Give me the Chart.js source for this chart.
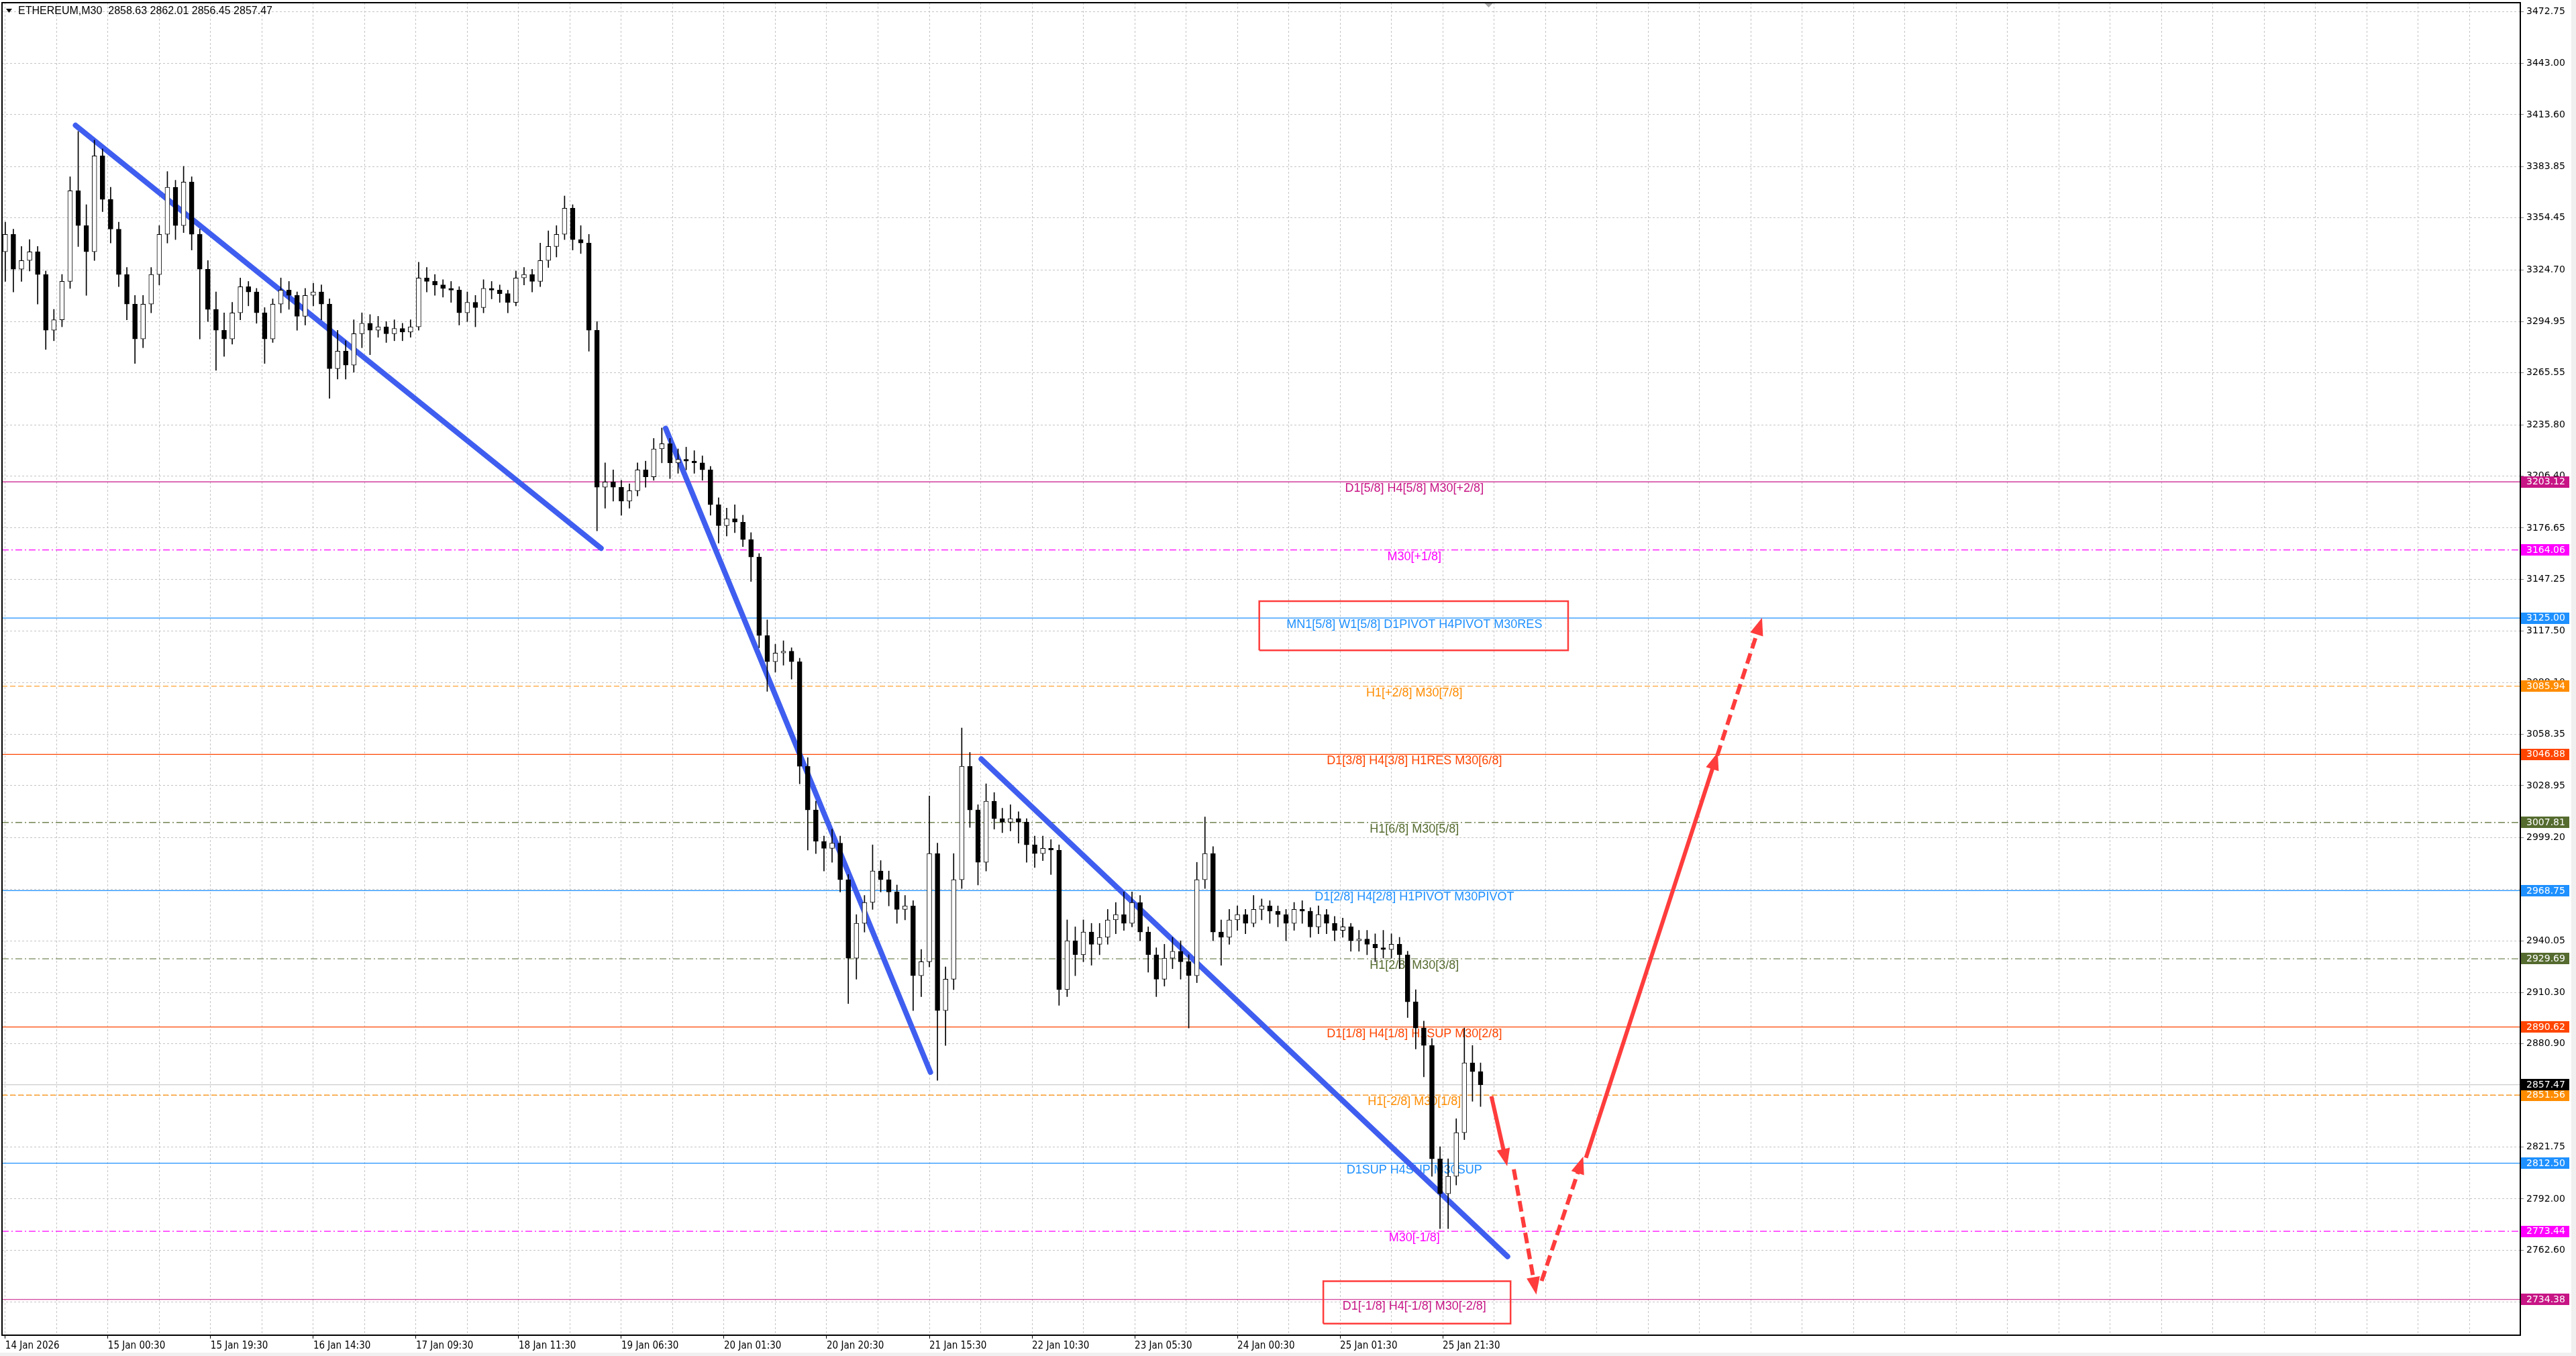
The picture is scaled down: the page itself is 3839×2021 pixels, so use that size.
<!DOCTYPE html>
<html>
<head>
<meta charset="utf-8">
<title>ETHEREUM,M30</title>
<script src="https://cdn.jsdelivr.net/npm/chart.js@4.4.1/dist/chart.umd.min.js"></script>
<style>
  html, body { margin: 0; padding: 0; background: #ffffff; overflow: hidden; }
  canvas { display: block; }
</style>
</head>
<body>
<canvas id="priceChart" width="3839" height="2021"></canvas>
<script>
// ---- values ----
const SYMBOL = "ETHEREUM,M30";
const lastBar = [2858.63, 2862.01, 2856.45, 2857.47]; // O H L C of the live bar

// one candle = 3 x M30 bars, first candle sits on bar 0
const BARS_PER_CANDLE = 3;

const opens = [
  3335,3345,3325,3330,3335,3322,3290,3296,3318,3370,
  3350,3335,3390,3365,3348,3322,3305,3285,3305,3322,
  3345,3372,3350,3375,3345,3325,3302,3290,3285,3300,
  3315,3312,3300,3285,3305,3313,3310,3298,3310,3312,
  3305,3268,3278,3270,3288,3294,3290,3292,3288,3291,
  3289,3292,3320,3318,3316,3314,3313,3300,3306,3303,
  3314,3313,3311,3306,3320,3322,3318,3330,3338,3345,
  3360,3342,3340,3290,3200,3203,3200,3192,3198,3210,
  3206,3222,3225,3214,3216,3215,3214,3210,3190,3178,
  3182,3180,3170,3160,3115,3100,3105,3106,3100,3040,
  3015,2997,2993,2996,2975,2930,2950,2962,2980,2975,
  2968,2958,2960,2920,2928,2990,2900,2918,2975,3040,
  3015,2985,3020,3010,3008,3010,3008,2995,2990,2993,
  2992,2912,2940,2932,2945,2938,2942,2952,2955,2950,
  2962,2945,2932,2918,2930,2934,2928,2920,2975,2990,
  2945,2942,2952,2955,2950,2958,2960,2957,2955,2950,
  2958,2957,2948,2955,2950,2946,2948,2940,2941,2938,
  2936,2935,2938,2932,2905,2890,2880,2815,2795,2805,
  2830,2870,2865
];
const highs = [
  3352,3348,3338,3342,3338,3324,3302,3322,3378,3404,
  3362,3399,3394,3372,3352,3326,3310,3310,3326,3350,
  3381,3376,3384,3378,3348,3330,3312,3300,3306,3320,
  3318,3314,3303,3308,3320,3318,3312,3314,3317,3316,
  3308,3290,3284,3296,3300,3299,3298,3295,3296,3294,
  3296,3329,3326,3322,3319,3318,3315,3312,3310,3319,
  3318,3316,3313,3324,3326,3325,3340,3347,3350,3367,
  3362,3350,3345,3295,3214,3210,3204,3202,3214,3215,
  3228,3234,3228,3222,3223,3221,3218,3212,3194,3188,
  3190,3184,3174,3162,3124,3110,3112,3108,3102,3045,
  3020,3000,3004,3000,2978,2955,2966,2995,2986,2980,
  2972,2966,2963,2935,3023,2996,2925,2990,3062,3048,
  3018,3030,3025,3016,3018,3014,3010,3000,3000,2998,
  2995,2952,2948,2952,2950,2950,2958,2962,2968,2968,
  2966,2948,2936,2938,2942,2940,2932,2985,3011,2994,
  2952,2958,2960,2958,2966,2964,2963,2960,2958,2962,
  2963,2959,2960,2958,2954,2953,2950,2946,2946,2944,
  2946,2944,2942,2934,2912,2894,2884,2822,2815,2838,
  2890,2880,2870
];
const lows = [
  3318,3312,3318,3324,3305,3279,3284,3292,3314,3338,
  3310,3330,3358,3340,3315,3296,3271,3280,3300,3316,
  3340,3342,3346,3336,3285,3295,3267,3275,3282,3296,
  3304,3294,3271,3283,3300,3302,3290,3293,3304,3296,
  3251,3262,3262,3266,3280,3276,3286,3283,3284,3284,
  3286,3290,3312,3310,3309,3306,3293,3295,3292,3300,
  3308,3306,3300,3304,3316,3312,3315,3326,3332,3342,
  3336,3334,3278,3175,3188,3192,3184,3188,3195,3200,
  3204,3214,3205,3208,3210,3208,3204,3184,3168,3172,
  3174,3166,3146,3108,3083,3094,3098,3090,3030,2992,
  2990,2980,2985,2968,2904,2918,2945,2958,2968,2960,
  2950,2952,2900,2908,2925,2860,2880,2912,2970,3005,
  2972,2980,3004,3002,3003,2996,2985,2982,2986,2978,
  2903,2908,2920,2928,2926,2932,2938,2944,2946,2948,
  2940,2922,2908,2914,2924,2918,2890,2916,2970,2940,
  2926,2938,2946,2944,2948,2952,2950,2948,2940,2946,
  2950,2942,2944,2944,2940,2942,2934,2934,2932,2928,
  2930,2930,2924,2896,2878,2862,2805,2775,2775,2800,
  2826,2848,2845
];
const closes = [
  3345,3325,3330,3335,3322,3290,3296,3318,3370,3350,
  3335,3390,3365,3348,3322,3305,3285,3305,3322,3345,
  3372,3350,3375,3345,3325,3302,3290,3285,3300,3315,
  3312,3300,3285,3305,3313,3310,3298,3310,3312,3305,
  3268,3278,3270,3288,3294,3290,3292,3288,3291,3289,
  3292,3320,3318,3316,3314,3313,3300,3306,3303,3314,
  3313,3311,3306,3320,3322,3318,3330,3338,3345,3360,
  3342,3340,3290,3200,3203,3200,3192,3198,3210,3206,
  3222,3225,3214,3216,3215,3214,3210,3190,3178,3182,
  3180,3170,3160,3115,3100,3105,3106,3100,3040,3015,
  2997,2993,2996,2975,2930,2950,2962,2980,2975,2968,
  2958,2960,2920,2928,2990,2900,2918,2975,3040,3015,
  2985,3020,3010,3008,3010,3008,2995,2990,2993,2992,
  2912,2940,2932,2945,2938,2942,2952,2955,2950,2962,
  2945,2932,2918,2930,2934,2928,2920,2975,2990,2945,
  2942,2952,2955,2950,2958,2960,2957,2955,2950,2958,
  2957,2948,2955,2950,2946,2948,2940,2941,2938,2936,
  2935,2938,2932,2905,2890,2880,2815,2795,2805,2830,
  2870,2865,2857.47
];

// time axis: a label every 38 bars
const LABEL_EVERY = 38;
const timeLabels = [
  "14 Jan 2026", "15 Jan 00:30", "15 Jan 19:30", "16 Jan 14:30", "17 Jan 09:30",
  "18 Jan 11:30", "19 Jan 06:30", "20 Jan 01:30", "20 Jan 20:30", "21 Jan 15:30",
  "22 Jan 10:30", "23 Jan 05:30", "24 Jan 00:30", "25 Jan 01:30", "25 Jan 21:30"
];

const priceTicks = [
  3472.75, 3443.00, 3413.60, 3383.85, 3354.45, 3324.70, 3294.95, 3265.55, 3235.80,
  3206.40, 3176.65, 3147.25, 3117.50, 3088.10, 3058.35, 3028.95, 2999.20, 2969.45,
  2940.05, 2910.30, 2880.90, 2851.50, 2821.75, 2792.00, 2762.60, 2732.85
];

// Murrey / pivot levels
const levelPrices = [3203.12, 3164.06, 3125.00, 3085.94, 3046.88, 3007.81, 2968.75,
                     2929.69, 2890.62, 2851.56, 2812.50, 2773.44, 2734.38];
const levelNames = [
  "D1[5/8] H4[5/8] M30[+2/8]", "M30[+1/8]", "MN1[5/8] W1[5/8] D1PIVOT H4PIVOT M30RES",
  "H1[+2/8] M30[7/8]", "D1[3/8] H4[3/8] H1RES M30[6/8]", "H1[6/8] M30[5/8]",
  "D1[2/8] H4[2/8] H1PIVOT M30PIVOT", "H1[2/8] M30[3/8]", "D1[1/8] H4[1/8] H1SUP M30[2/8]",
  "H1[-2/8] M30[1/8]", "D1SUP H4SUP M30SUP", "M30[-1/8]", "D1[-1/8] H4[-1/8] M30[-2/8]"
];

// hand drawn objects, in [bar, price]
const trendLines = [
  [[26, 3407.5], [220.5, 3165.0]],
  [[244.4, 3233.8], [342.4, 2864.7]],
  [[361.2, 3044.2], [556.0, 2759.0]]
];
const arrowPaths = [
  [[550.0, 2850.9], [555.3, 2814.6]],
  [[558.3, 2809.0], [566.2, 2741.0]],
  [[568.6, 2745.0], [583.2, 2812.7]],
  [[585.0, 2815.6], [633.0, 3044.3]],
  [[633.6, 3046.2], [649.4, 3121.5]]
];
const arrowDashed = [false, true, true, false, true];
const noteBoxes = [
  [[464.1, 3106.5], [578.4, 3134.7]],
  [[487.8, 2720.5], [557.1, 2744.9]]
];

// ---- styles ----
const SOLID = [], DASH = [8, 4], DASH_DOT = [10, 4, 2, 4];
const levelColors = ['#c71585', '#ff00ff', '#1e90ff', '#ff8c00', '#ff4500', '#556b2f', '#1e90ff',
                     '#556b2f', '#ff4500', '#ff8c00', '#1e90ff', '#ff00ff', '#c71585'];
const levelDashes = [SOLID, DASH_DOT, SOLID, DASH, SOLID, DASH_DOT, SOLID,
                     DASH_DOT, SOLID, DASH, SOLID, DASH_DOT, SOLID];
const TREND_BLUE = '#3f5ef0';
const ARROW_RED = '#ff3c3c';
const GRID_GRAY = '#c4c4c4';

const X_MIN = -1.2, X_MAX = 930.8;      // visible bar range (chart shifted left)
const Y_MIN = 2713.9, Y_MAX = 3477.8;
const LABEL_BAR = 521.5;                // where the level texts are centred

const AXIS_FONT = '"DejaVu Sans", Verdana, sans-serif';
const TIME_FONT = '"DejaVu Sans Condensed", "DejaVu Sans", sans-serif';
const TEXT_FONT = '"Liberation Sans", Arial, sans-serif';

function hLine(price) {
  return [{ x: X_MIN, y: price }, { x: X_MAX, y: price }];
}

function toXY(points) {
  return points.map(p => ({ x: p[0], y: p[1] }));
}

function buildDatasets() {
  const candleX = closes.map((c, i) => i * BARS_PER_CANDLE);
  const sets = [];

  // candle bodies (on top)
  sets.push({
    type: 'bar',
    data: candleX.map((x, i) => ({ x: x, y: [opens[i], closes[i]] })),
    backgroundColor: closes.map((c, i) => c >= opens[i] ? '#ffffff' : '#000000'),
    borderColor: '#000000',
    borderWidth: 1,
    borderSkipped: false,
    barThickness: 7,
    minBarLength: 1,
    grouped: false,
    order: 1
  });

  // wicks
  sets.push({
    type: 'bar',
    data: candleX.map((x, i) => ({ x: x, y: [lows[i], highs[i]] })),
    backgroundColor: '#000000',
    borderWidth: 0,
    barThickness: 1,
    grouped: false,
    order: 2
  });

  const lineBase = { type: 'line', pointRadius: 0, pointHoverRadius: 0, fill: false, tension: 0 };

  // bid line
  sets.push(Object.assign({}, lineBase, {
    data: hLine(lastBar[3]), borderColor: '#c0c0c0', borderWidth: 1, order: 5
  }));

  levelPrices.forEach((p, i) => {
    sets.push(Object.assign({}, lineBase, {
      data: hLine(p), borderColor: levelColors[i], borderWidth: 1.2,
      borderDash: levelDashes[i], order: 4
    }));
  });

  trendLines.forEach(t => {
    sets.push(Object.assign({}, lineBase, {
      data: toXY(t), borderColor: TREND_BLUE, borderWidth: 8,
      borderCapStyle: 'round', order: 3
    }));
  });

  arrowPaths.forEach((a, i) => {
    sets.push(Object.assign({}, lineBase, {
      data: toXY(a), borderColor: ARROW_RED, borderWidth: 6,
      borderDash: arrowDashed[i] ? [16, 8] : [], arrow: true, order: 3
    }));
  });

  noteBoxes.forEach(b => {
    const x0 = b[0][0], y0 = b[0][1], x1 = b[1][0], y1 = b[1][1];
    sets.push(Object.assign({}, lineBase, {
      data: [{ x: x0, y: y0 }, { x: x1, y: y0 }, { x: x1, y: y1 }, { x: x0, y: y1 }, { x: x0, y: y0 }],
      borderColor: ARROW_RED, borderWidth: 2.5, order: 3
    }));
  });

  return sets;
}

function drawArrowHead(ctx, x1, y1, x2, y2) {
  const ang = Math.atan2(y2 - y1, x2 - x1);
  const c = Math.cos(ang), s = Math.sin(ang);
  const tipX = x2 + c * 10, tipY = y2 + s * 10;
  const len = 26, half = 10;
  const bx = tipX - c * len, by = tipY - s * len;
  ctx.beginPath();
  ctx.moveTo(tipX, tipY);
  ctx.lineTo(bx + s * half, by - c * half);
  ctx.lineTo(bx - s * half, by + c * half);
  ctx.closePath();
  ctx.fill();
}

function drawTag(ctx, area, y, text, bg) {
  ctx.fillStyle = bg;
  ctx.fillRect(area.right + 1, Math.round(y - 8.5), 72, 17);
  ctx.fillStyle = '#ffffff';
  ctx.font = '14px ' + AXIS_FONT;
  ctx.textAlign = 'left';
  ctx.textBaseline = 'middle';
  ctx.fillText(text, area.right + 9, y + 0.5);
}

const mt4Decor = {
  id: 'mt4Decor',
  beforeDraw(chart) {
    const ctx = chart.ctx;
    ctx.save();
    ctx.fillStyle = '#ffffff';
    ctx.fillRect(0, 0, chart.width, chart.height);
    ctx.fillStyle = '#f0f0f0';
    ctx.fillRect(0, chart.height - 5, chart.width, 5);
    ctx.fillRect(chart.width - 7, 0, 7, chart.height);
    ctx.restore();
  },
  beforeDatasetsDraw(chart) {
    // level captions sit under the candles
    const ctx = chart.ctx, xs = chart.scales.x, ys = chart.scales.y;
    ctx.save();
    ctx.font = '18px ' + TEXT_FONT;
    ctx.textAlign = 'center';
    ctx.textBaseline = 'middle';
    levelPrices.forEach((p, i) => {
      ctx.fillStyle = levelColors[i];
      ctx.fillText(levelNames[i], xs.getPixelForValue(LABEL_BAR), ys.getPixelForValue(p) + 10);
    });
    ctx.restore();
  },
  afterDatasetsDraw(chart) {
    const ctx = chart.ctx;
    ctx.save();
    ctx.fillStyle = ARROW_RED;
    chart.data.datasets.forEach((ds, i) => {
      if (!ds.arrow) return;
      const pts = chart.getDatasetMeta(i).data;
      const a = pts[pts.length - 2], b = pts[pts.length - 1];
      drawArrowHead(ctx, a.x, a.y, b.x, b.y);
    });
    ctx.restore();
  },
  afterDraw(chart) {
    const ctx = chart.ctx, area = chart.chartArea, ys = chart.scales.y;
    ctx.save();

    // frame
    ctx.strokeStyle = '#000000';
    ctx.lineWidth = 2;
    ctx.strokeRect(area.left, area.top, area.right - area.left, area.bottom - area.top);

    // price tags on the axis
    levelPrices.forEach((p, i) => drawTag(ctx, area, ys.getPixelForValue(p), p.toFixed(2), levelColors[i]));
    drawTag(ctx, area, ys.getPixelForValue(lastBar[3]), lastBar[3].toFixed(2), '#000000');

    // chart shift marker
    const mx = chart.scales.x.getPixelForValue(549);
    ctx.fillStyle = '#a8a8a8';
    ctx.beginPath();
    ctx.moveTo(mx - 6, area.top + 1);
    ctx.lineTo(mx + 6, area.top + 1);
    ctx.lineTo(mx, area.top + 7);
    ctx.closePath();
    ctx.fill();

    // header
    ctx.fillStyle = '#000000';
    ctx.beginPath();
    ctx.moveTo(9, 13);
    ctx.lineTo(18, 13);
    ctx.lineTo(13.5, 19);
    ctx.closePath();
    ctx.fill();
    ctx.font = '16px ' + TEXT_FONT;
    ctx.textAlign = 'left';
    ctx.textBaseline = 'middle';
    ctx.fillText(SYMBOL + '  ' + lastBar.map(v => v.toFixed(2)).join(' '), 27, 17);
    ctx.restore();
  }
};

const gridBars = [];
for (let b = 0; b <= X_MAX; b += LABEL_EVERY / 2) gridBars.push(b);

function timeLabelFor(value) {
  const n = value / LABEL_EVERY;
  return Number.isInteger(n) && n < timeLabels.length ? timeLabels[n] : '';
}

const config = {
  type: 'bar',
  data: { datasets: buildDatasets() },
  options: {
    responsive: false,
    devicePixelRatio: 1,
    animation: false,
    events: [],
    layout: { padding: { left: 3, top: 4, right: 0, bottom: 0 } },
    plugins: { legend: { display: false }, tooltip: { enabled: false } },
    scales: {
      x: {
        type: 'linear',
        min: X_MIN,
        max: X_MAX,
        offset: false,
        afterBuildTicks: scale => { scale.ticks = gridBars.map(v => ({ value: v })); },
        afterFit: scale => { scale.height = 31; scale.paddingLeft = 0; scale.paddingRight = 0; },
        grid: {
          offset: false,
          color: GRID_GRAY,
          lineWidth: 1,
          tickLength: 5,
          tickColor: ctx => (ctx.tick && timeLabelFor(ctx.tick.value)) ? '#000000' : 'rgba(0,0,0,0)',
          tickBorderDash: []
        },
        border: { display: false, dash: [3, 3] },
        ticks: {
          autoSkip: false,
          maxRotation: 0,
          minRotation: 0,
          align: 'start',
          padding: 2,
          color: '#000000',
          font: { family: TIME_FONT, size: 15 },
          callback: value => timeLabelFor(value)
        }
      },
      y: {
        type: 'linear',
        position: 'right',
        min: Y_MIN,
        max: Y_MAX,
        afterBuildTicks: scale => { scale.ticks = priceTicks.map(v => ({ value: v })); },
        afterFit: scale => { scale.width = 83; scale.paddingTop = 0; scale.paddingBottom = 0; },
        grid: {
          color: GRID_GRAY,
          lineWidth: 1,
          tickLength: 5,
          tickColor: '#808080',
          tickBorderDash: []
        },
        border: { display: false, dash: [3, 3] },
        ticks: {
          padding: 4,
          color: '#000000',
          font: { family: AXIS_FONT, size: 14 },
          callback: value => Number(value).toFixed(2)
        }
      }
    }
  },
  plugins: [mt4Decor]
};

new Chart(document.getElementById('priceChart').getContext('2d'), config);
</script>
</body>
</html>
